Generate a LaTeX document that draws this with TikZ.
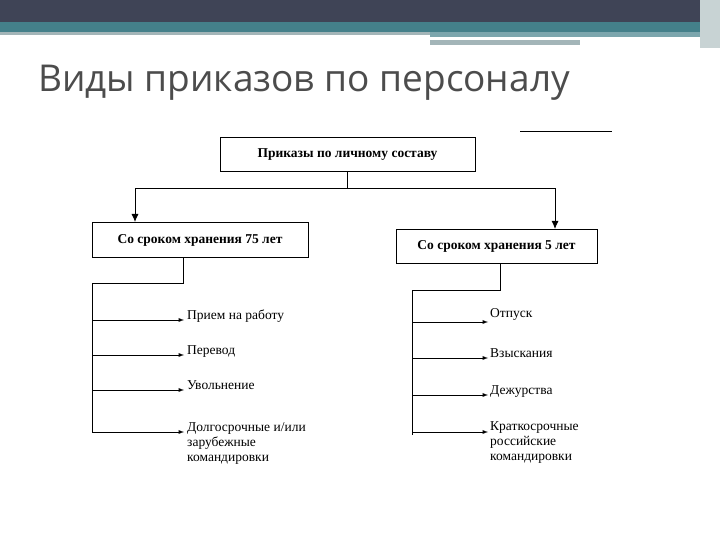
\documentclass[tikz,border=0pt]{standalone}
\usepackage{fontspec}
\usetikzlibrary{arrows.meta}
\setmainfont{Liberation Serif}
\newfontfamily\titlefont{Open Sans}
\definecolor{dk}{HTML}{3F4456}
\definecolor{tl}{HTML}{44808A}
\definecolor{lg}{HTML}{A3B5B8}
\begin{document}
\begin{tikzpicture}[x=1pt,y=-1pt,
  box/.style={draw,line width=1pt,minimum height=34pt,inner sep=2pt,font=\bfseries\fontsize{13.5}{15}\selectfont},
  item/.style={anchor=north west,align=left,inner sep=0pt,font=\fontsize{13.5}{15}\selectfont},
  ln/.style={line width=0.9pt},
  arr/.style={ln,-latex},
  barr/.style={ln,-{Latex[length=8pt,width=7pt]}}]
\useasboundingbox (0,0) rectangle (720,540);
\fill[dk] (0,0) rectangle (720,22);
\fill[tl] (0,22) rectangle (710,32);
\fill[lg] (0,32) rectangle (430,35);
\fill[tl!70] (430,32) rectangle (700,37);
\fill[lg] (430,40) rectangle (580,45);
\fill[lg!60] (700,0) rectangle (720,48);
\node[anchor=base west,inner sep=0pt,text=black!70,font=\titlefont\fontsize{37}{40}\selectfont] (title) at (38,92) {Виды приказов по персоналу};
\draw[ln] (520,131) -- (612,131);
\node[box,minimum width=255pt] (top) at (347.5,155) {Приказы по личному составу};
\node[box,minimum width=216pt] (L) at (200,240) {Со сроком хранения 75 лет};
\node[box,minimum width=201pt] (R) at (496.5,246.5) {Со сроком хранения 5 лет};
\coordinate (j) at (347,188);
\draw[ln] (top.south -| j) -- (j);
\draw[barr] (j) -- (135,188) -- (135,222);
\draw[barr] (j) -- (555,188) -- (555,229);
% left
\draw[ln] (L.south -| 183,0) -- (183,283) -- (92,283) -- (92,432);
\foreach \y/\t [count=\i] in {320/{Прием на работу},355/{Перевод},390/{Увольнение},432/{Долгосрочные  и/или\\зарубежные\\командировки}}{
  \coordinate (la\i) at (92,\y);
  \node[item] (li\i) at (187,\y-10) {\t};
  \draw[arr] (la\i) -- (184,\y);
}
% right
\draw[ln] (R.south -| 500,0) -- (500,290) -- (412,290) -- (412,435);
\foreach \y/\t/\ty [count=\i] in {322/{Отпуск}/318,358/{Взыскания}/358,395/{Дежурства}/395,432/{Краткосрочные\\российские\\командировки}/431}{
  \coordinate (ra\i) at (412,\y);
  \node[item] (ri\i) at (490,\ty-10) {\t};
  \draw[arr] (ra\i) -- (488,\y);
}
\end{tikzpicture}
\end{document}
